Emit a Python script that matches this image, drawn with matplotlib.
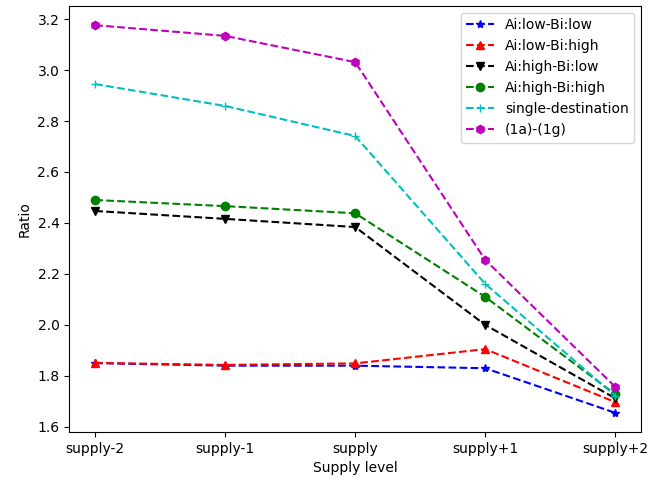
import matplotlib
matplotlib.use('Agg')
import matplotlib.pyplot as plt

levels = ['supply-2', 'supply-1', 'supply', 'supply+1', 'supply+2']

low_low = [1.850, 1.840, 1.840, 1.830, 1.655]
low_high = [1.851, 1.843, 1.849, 1.905, 1.697]
high_low = [2.447, 2.416, 2.384, 2.000, 1.712]
high_high = [2.490, 2.466, 2.438, 2.110, 1.728]
single_dest = [2.945, 2.859, 2.741, 2.161, 1.722]
model_1a_1g = [3.176, 3.134, 3.031, 2.255, 1.757]

labels = ['Ai:low-Bi:low', 'Ai:low-Bi:high', 'Ai:high-Bi:low',
          'Ai:high-Bi:high', 'single-destination', '(1a)-(1g)']
styles = ['b*--', 'r^--', 'kv--', 'go--', 'c+--', 'mh--']
series = [low_low, low_high, high_low, high_high, single_dest, model_1a_1g]

fig = plt.figure(figsize=(6.53, 4.84), dpi=100)
x = range(len(levels))
for ys, st, lab in zip(series, styles, labels):
    plt.plot(x, ys, st, label=lab)

plt.xticks(x, levels)
plt.xlabel('Supply level')
plt.ylabel('Ratio')
plt.legend(loc='upper right')
plt.subplots_adjust(left=0.106, right=0.982, top=0.988, bottom=0.107)
plt.savefig('out.png')
